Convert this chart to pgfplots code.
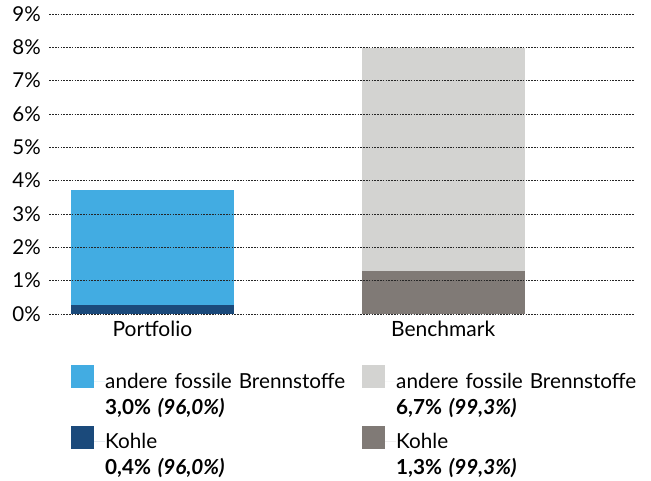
\documentclass[border=0pt]{standalone}
\usepackage{fontspec}
\setmainfont{Lato}
\usepackage{pgfplots}
\pgfplotsset{compat=1.18}

\definecolor{hellblau}{HTML}{42ACE2}
\definecolor{dunkelblau}{HTML}{1B4A7B}
\definecolor{hellgrau}{HTML}{D3D3D1}
\definecolor{dunkelgrau}{HTML}{807A76}

\begin{document}
\begin{tikzpicture}
\begin{axis}[
    name=ax,
    at={(0,0)}, anchor=south west,
    scale only axis,
    width=585pt, height=300pt,
    ybar stacked,
    bar width=0.560,
    xmin=-0.354, xmax=1.658,
    ymin=0, ymax=9,
    ytick={0,1,...,9},
    yticklabel={\pgfmathprintnumber{\tick}\%},
    /pgf/number format/assume math mode=true,
    xtick={0,1},
    xticklabels={Portfolio,Benchmark},
    axis line style={draw=none},
    major tick style={draw=none},
    ymajorgrids,
    grid style={black!85, line width=0.9pt, dash pattern=on 1.6pt off 1.2pt},
    axis on top,
    yticklabel style={anchor=east, inner sep=0pt, xshift=-8.5pt,
        font=\fontsize{20.5}{22}\selectfont},
    xticklabel style={anchor=base, inner sep=0pt, yshift=-23pt,
        font=\fontsize{21}{23}\selectfont},
    legend columns=2,
    legend cell align=left,
    legend style={
        draw=none, fill=none, inner sep=0pt,
        at={(0.0368,-0.17)}, anchor=north west,
        font=\fontsize{20.7}{26.5}\selectfont,
        /tikz/row sep=36pt,
        nodes={text width=257pt, align=left, inner sep=0pt},
    },
    legend image code/.code={
        \fill[#1] (0pt,-7pt) rectangle (23pt,16pt);
        \path (0pt,0pt) -- (34pt,0pt);
    },
]
\addplot[fill=dunkelblau, draw=none, forget plot] coordinates {(0,0.27) (1,0)};
\addplot[fill=dunkelgrau, draw=none, forget plot] coordinates {(0,0) (1,1.28)};
\addplot[fill=hellblau, draw=none, forget plot] coordinates {(0,3.44) (1,0)};
\addplot[fill=hellgrau, draw=none, forget plot] coordinates {(0,0) (1,6.71)};

\addlegendimage{fill=hellblau, draw=none}
\addlegendentry{andere fossile Brennstoffe\\\textbf{3,0\% \textit{(96,0\%)}}}
\addlegendimage{fill=hellgrau, draw=none}
\addlegendentry{andere fossile Brennstoffe\\\textbf{6,7\% \textit{(99,3\%)}}}
\addlegendimage{fill=dunkelblau, draw=none}
\addlegendentry{Kohle\\\textbf{0,4\% \textit{(96,0\%)}}}
\addlegendimage{fill=dunkelgrau, draw=none}
\addlegendentry{Kohle\\\textbf{1,3\% \textit{(99,3\%)}}}
\end{axis}
\pgfresetboundingbox
\path (ax.south west) ++(-49.5pt,-167pt) rectangle ++(651pt,481pt);
\end{tikzpicture}
\end{document}
